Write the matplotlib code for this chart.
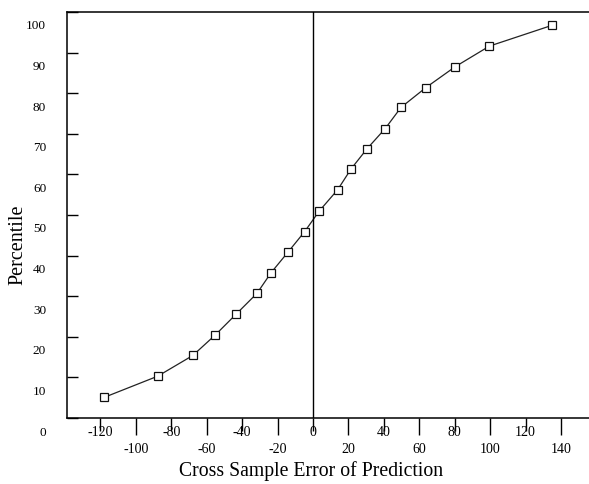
import matplotlib
matplotlib.use("Agg")
import matplotlib.pyplot as plt
from matplotlib.transforms import ScaledTranslation

# Data
error = [-117.7, -87.6, -67.8, -55.0, -43.3, -31.6, -23.6, -14.0, -4.7, 3.6,
         13.9, 21.6, 30.5, 40.8, 49.7, 63.8, 80.2, 99.6, 134.8]
percentile = [5.1, 10.3, 15.4, 20.5, 25.6, 30.7, 35.8, 40.9, 45.9, 51.0,
              56.2, 61.4, 66.3, 71.3, 76.5, 81.4, 86.5, 91.6, 96.7]
x_major = [-120, -80, -40, 0, 40, 80, 120]
x_minor = [-100, -60, -20, 20, 60, 100, 140]
y_ticks = [0, 10, 20, 30, 40, 50, 60, 70, 80, 90, 100]

plt.rcParams['font.family'] = ['Liberation Serif', 'DejaVu Serif']

W, H = 589, 485
fig = plt.figure(figsize=(W / 100, H / 100), dpi=100)
left, right, top, bottom = 67, 600, 13, 419
ax = fig.add_axes([left / W, 1 - bottom / H, (right - left) / W, (bottom - top) / H])

ax.plot(error, percentile, color='#222222', linewidth=0.9, marker='s',
        markersize=5.3, markerfacecolor='white', markeredgecolor='#111111',
        markeredgewidth=0.9)
ax.axvline(0, color='black', linewidth=1.0)

ax.set_xlim(-138.8, 162)
ax.set_ylim(0, 100)

ax.spines['right'].set_visible(False)
for s in ['left', 'top', 'bottom']:
    ax.spines[s].set_linewidth(1.1)

ax.set_xticks(x_major)
ax.set_xticklabels([str(v) for v in x_major])
ax.set_xticks(x_minor, minor=True)
ax.set_xticklabels([str(v) for v in x_minor], minor=True)
ax.tick_params(axis='x', which='major', direction='out', length=9, width=1,
               pad=-4, labelsize=10)
ax.tick_params(axis='x', which='minor', direction='out', length=12, width=1,
               pad=5, labelsize=10)

ax.set_yticks(y_ticks)
ax.set_yticklabels([str(v) for v in y_ticks])
ax.tick_params(axis='y', direction='in', length=8, width=1, pad=15, labelsize=9.5)
offset = ScaledTranslation(0, -12 / 100, fig.dpi_scale_trans)
for lbl in ax.get_yticklabels():
    lbl.set_transform(lbl.get_transform() + offset)

fig.text(311 / W, 1 - 471 / H, 'Cross Sample Error of Prediction',
         ha='center', va='center', fontsize=14.2)
fig.text(18 / W, 1 - 245 / H, 'Percentile', ha='center', va='center',
         rotation=90, fontsize=14.5)

fig.savefig('out.png', dpi=100)
